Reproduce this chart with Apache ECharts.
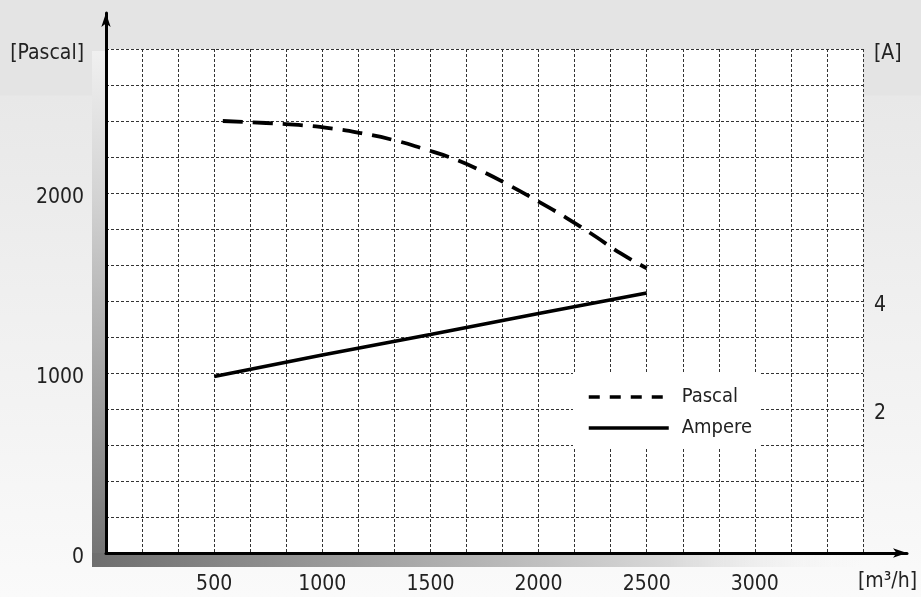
<!DOCTYPE html>
<html><head><meta charset="utf-8">
<script src="https://cdn.jsdelivr.net/npm/echarts@6/dist/echarts.min.js"></script>
<style>
html,body{margin:0;padding:0;}
body{background:linear-gradient(to bottom,#e4e4e4 0px,#e4e4e4 95px,#e8e8e8 96px,#fafafa 597px);}
#c{width:921px;height:597px;}
</style></head><body><div id="c"></div>
<script>
// ---- data ----
const airflow = [540, 740, 890, 1040, 1180, 1330, 1470, 1610, 1740, 1870, 2000, 2130, 2260, 2380, 2500];
const pascal  = [2400, 2389, 2378, 2359, 2332, 2294, 2245, 2189, 2120, 2039, 1952, 1861, 1761, 1664, 1582];
const ampereFlow = [500, 1000, 1500, 2000, 2500];
const ampere     = [2.6, 3.0, 3.38, 3.77, 4.15];
const xTicks = [500, 1000, 1500, 2000, 2500, 3000];
const pascalTicks = [0, 1000, 2000];
const ampereTicks = [2, 4];
const xUnit = '[m³/h]';
const pascalUnit = '[Pascal]';
const ampereUnit = '[A]';
const seriesNames = ['Pascal', 'Ampere'];

// axis ranges
const X_MAX = 3500, P_MAX = 2800, A_MIN = -2/3, A_MAX = 26/3;

const FONT = "'Liberation Sans Narrow','DejaVu Sans Condensed','Roboto Condensed','Liberation Sans',sans-serif";
const chart = echarts.init(document.getElementById('c'), null, {renderer:'canvas'});
const grad = (x1,y1,x2,y2,stops)=>new echarts.graphic.LinearGradient(x1,y1,x2,y2,stops);
const lblRich = {t:{fontSize:21, color:'#222', fontFamily:FONT, padding:[9,0,0,0]}};

const option = {
  animation:false,
  backgroundColor:'transparent',
  textStyle:{fontFamily:FONT},
  graphic:[
    {type:'rect', left:92, top:51, z:-10, shape:{width:14, height:502},
     style:{fill:grad(0,0,0,1,[{offset:0,color:'#f0f0f0'},{offset:0.3,color:'#d2d2d2'},{offset:1,color:'#747474'}])}},
    {type:'rect', left:92, top:553, z:-10, shape:{width:770, height:14},
     style:{fill:grad(0,0,1,0,[{offset:0,color:'#6e6e6e'},{offset:0.4,color:'#a6a6a6'},{offset:0.75,color:'#d8d8d8'},{offset:1,color:'rgba(245,245,245,0)'}])}}
  ],
  grid:[
    {left:106, right:58, top:49, bottom:44, show:true, backgroundColor:'#ffffff', borderWidth:0, outerBoundsMode:'none', containLabel:false},
    {left:106, right:14, top:13, bottom:44, show:false, outerBoundsMode:'none', containLabel:false}
  ],
  legend:{
    orient:'vertical', left:573, top:373, backgroundColor:'#ffffff',
    padding:[14,8,11,14], itemWidth:80, itemHeight:18, itemGap:11,
    itemStyle:{color:'rgba(0,0,0,0)', borderWidth:0, opacity:0},
    lineStyle:{width:3.5, color:'#000'},
    textStyle:{fontSize:20, color:'#222', fontFamily:FONT, padding:[0,0,0,8]},
    data:[{name:seriesNames[0], lineStyle:{type:[11,10], width:3.5}}, {name:seriesNames[1], lineStyle:{width:3.5}}]
  },
  xAxis:[
    {gridIndex:0, type:'value', min:0, max:X_MAX, interval:500/3,
     axisLine:{show:false}, axisTick:{show:false},
     splitLine:{show:true, lineStyle:{color:'#333', width:1, type:[3,2]}},
     axisLabel:{customValues:xTicks, margin:21, fontSize:21, color:'#222', fontFamily:FONT, formatter:v=>String(v)},
     name:xUnit, nameLocation:'end', nameGap:-5,
     nameTextStyle:{fontSize:21, color:'#222', fontFamily:FONT, verticalAlign:'top', padding:[18,0,0,0]}},
    {gridIndex:1, type:'value', min:0, max:1,
     axisLine:{show:true, onZero:false, symbol:['none','arrow'], symbolSize:[7,14], lineStyle:{color:'#000', width:3}},
     axisTick:{show:false}, axisLabel:{show:false}, splitLine:{show:false}}
  ],
  yAxis:[
    {gridIndex:0, type:'value', min:0, max:P_MAX, interval:200,
     axisLine:{show:false}, axisTick:{show:false},
     splitLine:{show:true, lineStyle:{color:'#333', width:1, type:[3,2]}},
     axisLabel:{customValues:pascalTicks.concat([P_MAX]), margin:22, fontSize:21, color:'#222', fontFamily:FONT,
       rich:lblRich, formatter:v=> '{t|' + (v===P_MAX ? pascalUnit : String(v)) + '}'}},
    {gridIndex:0, type:'value', position:'right', min:A_MIN, max:A_MAX,
     axisLine:{show:false}, axisTick:{show:false}, splitLine:{show:false},
     axisLabel:{customValues:ampereTicks.concat([A_MAX]), margin:11, fontSize:21, color:'#222', fontFamily:FONT,
       rich:lblRich, formatter:v=> '{t|' + (v>8 ? ampereUnit : String(v)) + '}'}},
    {gridIndex:1, type:'value', min:0, max:1,
     axisLine:{show:true, onZero:false, symbol:['none','arrow'], symbolSize:[7,14], lineStyle:{color:'#000', width:3}},
     axisTick:{show:false}, axisLabel:{show:false}, splitLine:{show:false}}
  ],
  series:[
    {name:seriesNames[0], type:'line', xAxisIndex:0, yAxisIndex:0, smooth:true, symbol:'none',
     data:airflow.map((x,i)=>[x,pascal[i]]),
     lineStyle:{color:'#000', width:3.8, type:[20,10]}, itemStyle:{color:'#000'}},
    {name:seriesNames[1], type:'line', xAxisIndex:0, yAxisIndex:1, symbol:'none',
     data:ampereFlow.map((x,i)=>[x,ampere[i]]),
     lineStyle:{color:'#000', width:3.6}, itemStyle:{color:'#000'}}
  ]
};
chart.setOption(option);
</script></body></html>
